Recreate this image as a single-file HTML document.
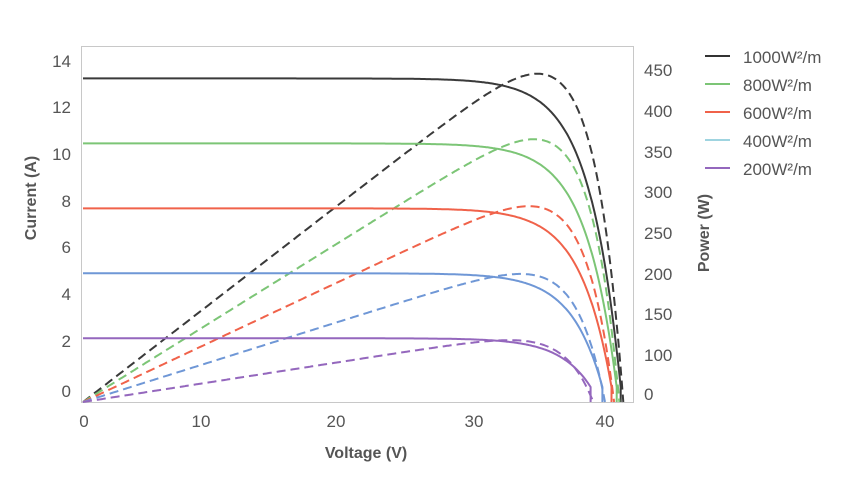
<!DOCTYPE html><html><head><style>
body{margin:0;background:#fff;width:842px;height:496px;overflow:hidden}
svg text{font-family:"Liberation Sans",sans-serif}
</style></head><body>
<svg id="s" width="842" height="496" xmlns="http://www.w3.org/2000/svg">
<rect x="81.5" y="46.5" width="552" height="356" fill="none" stroke="#c8c8c8" stroke-width="1"/>
<g font-size="17" fill="#555" text-anchor="end">
<text x="71" y="67">14</text><text x="71" y="113">12</text><text x="71" y="160">10</text><text x="71" y="207">8</text><text x="71" y="253">6</text><text x="71" y="300">4</text><text x="71" y="347">2</text><text x="71" y="397">0</text>
</g>
<g font-size="17" fill="#555" text-anchor="start">
<text x="644" y="76">450</text><text x="644" y="117">400</text><text x="644" y="158">350</text><text x="644" y="198">300</text><text x="644" y="239">250</text><text x="644" y="280">200</text><text x="644" y="320">150</text><text x="644" y="361">100</text><text x="644" y="400">0</text>
</g>
<g font-size="17" fill="#555" text-anchor="middle">
<text x="84" y="427">0</text><text x="201" y="427">10</text><text x="336" y="427">20</text><text x="474" y="427">30</text><text x="605" y="427">40</text>
</g>
<text x="366" y="458" font-size="16" font-weight="bold" fill="#555" text-anchor="middle">Voltage (V)</text>
<text transform="translate(36,198) rotate(-90)" font-size="16" font-weight="bold" fill="#555" text-anchor="middle">Current (A)</text>
<text transform="translate(709,233) rotate(-90)" font-size="16" font-weight="bold" fill="#555" text-anchor="middle">Power (W)</text>
<g font-size="17" fill="#555">
<line x1="705" y1="56" x2="730" y2="56" stroke="#333" stroke-width="2"/><text x="743" y="63">1000W²/m</text>
<line x1="705" y1="84" x2="730" y2="84" stroke="#7cc576" stroke-width="2"/><text x="743" y="91">800W²/m</text>
<line x1="705" y1="112" x2="730" y2="112" stroke="#f0624a" stroke-width="2"/><text x="743" y="119">600W²/m</text>
<line x1="705" y1="140" x2="730" y2="140" stroke="#9fd4e0" stroke-width="2"/><text x="743" y="147">400W²/m</text>
<line x1="705" y1="168" x2="730" y2="168" stroke="#9467bd" stroke-width="2"/><text x="743" y="175">200W²/m</text>
</g>
<g id="c" fill="none" stroke-width="2"></g>
</svg>
<script>
var S=[["#3a3a3a",13.3,41.2,446,41.4],["#7cc576",10.5,40.9,357,41.1],["#f0624a",7.7,40.5,266,40.7],["#6f97d6",4.9,39.8,174,40.0],["#9467bd",2.1,38.9,84,39.1]];
var g=document.getElementById('c'),h='',a=2.4;
function X(v){return 83+v*13.05}
S.forEach(function(s){
 var p='',q='',mx=0,v;
 for(v=0;v<=s[4];v+=0.1){var f=v*(1-Math.exp((v-s[4])/a));if(f>mx)mx=f}
 for(v=0;v<=s[2]+0.001;v+=0.1){var I=s[1]*(1-Math.exp((v-s[2])/a));p+=(p?'L':'M')+X(v).toFixed(1)+','+(387-I*23.2).toFixed(1)}
 p+='L'+X(s[2]).toFixed(1)+',402';
 for(v=0;v<=s[4]+0.001;v+=0.1){var P=s[3]/mx*v*(1-Math.exp((v-s[4])/a));q+=(q?'L':'M')+X(v).toFixed(1)+','+(402-P*0.736).toFixed(1)}
 h+='<path d="'+p+'" stroke="'+s[0]+'"/><path d="'+q+'" stroke="'+s[0]+'" stroke-dasharray="9,5"/>';
});
g.innerHTML=h;
</script>
</body></html>
